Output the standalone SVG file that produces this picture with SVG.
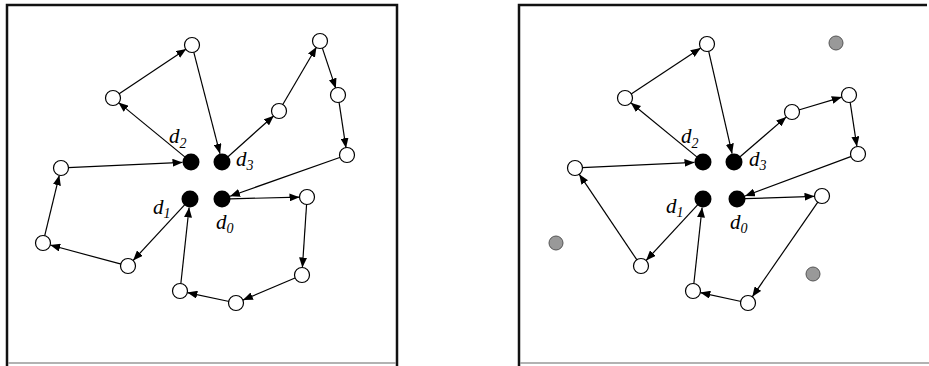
<svg xmlns="http://www.w3.org/2000/svg" width="929" height="366" viewBox="0 0 929 366">
<defs>
<marker id="ah" markerUnits="userSpaceOnUse" markerWidth="10" markerHeight="8" refX="10" refY="4" orient="auto">
<path d="M0,0 L10,4 L0,8 z" fill="#000"/>
</marker>
<style>
.frame{fill:none;stroke:#111;stroke-width:2.5}
.fbot{stroke:#999;stroke-width:1.5}
.open{fill:#fff;stroke:#000;stroke-width:1.2}
.dep{fill:#000}
.gray{fill:#999;stroke:#555;stroke-width:1}
.edge{stroke:#000;stroke-width:1.2;fill:none;marker-end:url(#ah)}
.lbl{font-family:"Liberation Serif",serif;font-style:italic;font-size:21px;fill:#000}
.sub{font-size:14px}
</style>
</defs>
<rect width="929" height="366" fill="#fff"/>
<g id="panel-left-frame">
<path class="frame" d="M7,366 L7,5 L397,5 L397,366"/>
<line class="fbot" x1="8" y1="363" x2="396" y2="363"/>
</g>
<g id="panel-right-frame">
<path class="frame" d="M519,366 L519,5 L927,5"/>
<line class="fbot" x1="520" y1="363" x2="929" y2="363"/>
</g>
<g id="connectors-left">
<line class="edge" x1="184.8" y1="156.9" x2="118.4" y2="102.4"/>
<line class="edge" x1="118.8" y1="94.1" x2="186.2" y2="48.9"/>
<line class="edge" x1="193.7" y1="51.8" x2="220.0" y2="153.8"/>
<line class="edge" x1="228.0" y1="156.7" x2="273.8" y2="115.7"/>
<line class="edge" x1="282.5" y1="105.0" x2="316.5" y2="47.0"/>
<line class="edge" x1="322.2" y1="47.6" x2="335.8" y2="88.4"/>
<line class="edge" x1="339.0" y1="101.9" x2="346.0" y2="148.1"/>
<line class="edge" x1="340.4" y1="157.3" x2="230.0" y2="196.2"/>
<line class="edge" x1="230" y1="198.8" x2="299.5" y2="197.2"/>
<line class="edge" x1="306.6" y1="204.0" x2="302.4" y2="267.5"/>
<line class="edge" x1="295.6" y1="277.7" x2="242.9" y2="300.1"/>
<line class="edge" x1="229.2" y1="301.5" x2="187.3" y2="292.6"/>
<line class="edge" x1="180.8" y1="284.0" x2="189.1" y2="207.5"/>
<line class="edge" x1="184.6" y1="204.9" x2="133.1" y2="260.5"/>
<line class="edge" x1="121.2" y1="264.2" x2="50.2" y2="245.0"/>
<line class="edge" x1="44.6" y1="236.2" x2="59.3" y2="175.3"/>
<line class="edge" x1="68.0" y1="167.7" x2="182.5" y2="162.4"/>
</g>
<g id="connectors-right">
<line class="edge" x1="696.8" y1="156.9" x2="630.8" y2="102.7"/>
<line class="edge" x1="630.8" y1="94.2" x2="700.7" y2="48.1"/>
<line class="edge" x1="708.6" y1="50.8" x2="732.1" y2="153.7"/>
<line class="edge" x1="740.1" y1="156.8" x2="786.3" y2="116.9"/>
<line class="edge" x1="798.7" y1="110.0" x2="841.8" y2="97.1"/>
<line class="edge" x1="850.1" y1="101.9" x2="856.9" y2="146.6"/>
<line class="edge" x1="851.4" y1="156.4" x2="745.0" y2="196.0"/>
<line class="edge" x1="745.0" y1="198.7" x2="814.5" y2="196.3"/>
<line class="edge" x1="818.0" y1="201.8" x2="752.3" y2="296.8"/>
<line class="edge" x1="741.2" y1="301.5" x2="700.3" y2="292.6"/>
<line class="edge" x1="693.8" y1="284.0" x2="702.1" y2="207.5"/>
<line class="edge" x1="697.6" y1="204.9" x2="646.1" y2="260.5"/>
<line class="edge" x1="637.1" y1="260.2" x2="579.2" y2="174.2"/>
<line class="edge" x1="582.0" y1="167.7" x2="694.5" y2="162.4"/>
</g>
<g id="nodes-left">
<g id="L-A"><circle class="open" cx="192" cy="45" r="7.5"/></g>
<g id="L-B"><circle class="open" cx="113" cy="98" r="7.5"/></g>
<g id="L-C"><circle class="open" cx="320" cy="41" r="7.5"/></g>
<g id="L-D"><circle class="open" cx="338" cy="95" r="7.5"/></g>
<g id="L-E"><circle class="open" cx="279" cy="111" r="7.5"/></g>
<g id="L-F"><circle class="open" cx="347" cy="155" r="7.5"/></g>
<g id="L-G"><circle class="open" cx="61" cy="168" r="7.5"/></g>
<g id="L-H"><circle class="open" cx="307" cy="197" r="7.5"/></g>
<g id="L-I"><circle class="open" cx="43" cy="243" r="7.5"/></g>
<g id="L-J"><circle class="open" cx="128" cy="266" r="7.5"/></g>
<g id="L-K"><circle class="open" cx="302" cy="275" r="7.5"/></g>
<g id="L-L"><circle class="open" cx="180" cy="291" r="7.5"/></g>
<g id="L-M"><circle class="open" cx="236" cy="303" r="7.5"/></g>
<g id="L-d2"><circle class="dep" cx="191" cy="162" r="8.5"/><text class="lbl" x="169" y="143">d<tspan class="sub" dy="5">2</tspan></text></g>
<g id="L-d3"><circle class="dep" cx="222" cy="162" r="8.5"/><text class="lbl" x="236" y="166">d<tspan class="sub" dy="4">3</tspan></text></g>
<g id="L-d1"><circle class="dep" cx="190" cy="199" r="8.5"/><text class="lbl" x="153" y="214">d<tspan class="sub" dy="4">1</tspan></text></g>
<g id="L-d0"><circle class="dep" cx="222" cy="199" r="8.5"/><text class="lbl" x="216" y="229">d<tspan class="sub" dy="4">0</tspan></text></g>
</g>
<g id="nodes-right">
<g id="R-A"><circle class="open" cx="707" cy="44" r="7.5"/></g>
<g id="R-B"><circle class="open" cx="625" cy="98" r="7.5"/></g>
<g id="R-C"><circle class="open" cx="849" cy="95" r="7.5"/></g>
<g id="R-E"><circle class="open" cx="792" cy="112" r="7.5"/></g>
<g id="R-F"><circle class="open" cx="858" cy="154" r="7.5"/></g>
<g id="R-G"><circle class="open" cx="575" cy="168" r="7.5"/></g>
<g id="R-H"><circle class="open" cx="822" cy="196" r="7.5"/></g>
<g id="R-J"><circle class="open" cx="641" cy="266" r="7.5"/></g>
<g id="R-L"><circle class="open" cx="693" cy="291" r="7.5"/></g>
<g id="R-M"><circle class="open" cx="748" cy="303" r="7.5"/></g>
<g id="R-X1"><circle class="gray" cx="836" cy="43" r="7"/></g>
<g id="R-X2"><circle class="gray" cx="556" cy="243" r="7"/></g>
<g id="R-X3"><circle class="gray" cx="813" cy="274" r="7"/></g>
<g id="R-d2"><circle class="dep" cx="703" cy="162" r="8.5"/><text class="lbl" x="681" y="143">d<tspan class="sub" dy="5">2</tspan></text></g>
<g id="R-d3"><circle class="dep" cx="734" cy="162" r="8.5"/><text class="lbl" x="749" y="166">d<tspan class="sub" dy="4">3</tspan></text></g>
<g id="R-d1"><circle class="dep" cx="703" cy="199" r="8.5"/><text class="lbl" x="666" y="213">d<tspan class="sub" dy="4">1</tspan></text></g>
<g id="R-d0"><circle class="dep" cx="737" cy="199" r="8.5"/><text class="lbl" x="730" y="229">d<tspan class="sub" dy="4">0</tspan></text></g>
</g>
</svg>
